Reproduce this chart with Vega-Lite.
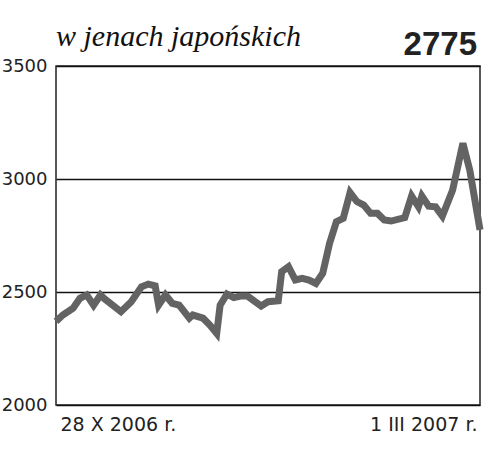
{
  "$schema": "https://vega.github.io/schema/vega-lite/v6.json",
  "autosize": "none",
  "width": 424,
  "height": 339,
  "padding": {"left": 56, "top": 66, "right": 20, "bottom": 48},
  "background": "white",
  "title": {
    "text": "w jenach japońskich",
    "anchor": "start",
    "frame": "group",
    "font": "Liberation Serif",
    "fontStyle": "italic",
    "fontWeight": "normal",
    "fontSize": 30,
    "color": "#111",
    "baseline": "alphabetic",
    "offset": -47
  },
  "config": {
    "view": {"stroke": "#222", "strokeWidth": 1.5},
    "axis": {"labelFont": "DejaVu Sans", "labelFontSize": 18, "labelColor": "#222", "ticks": false, "domain": false, "title": null}
  },
  "data": {
    "values": [
      {"date": "2006-10-28", "value": 2370},
      {"date": "2006-10-30", "value": 2398},
      {"date": "2006-11-02", "value": 2428},
      {"date": "2006-11-04", "value": 2472},
      {"date": "2006-11-06", "value": 2487},
      {"date": "2006-11-08", "value": 2442},
      {"date": "2006-11-10", "value": 2487},
      {"date": "2006-11-11", "value": 2472},
      {"date": "2006-11-16", "value": 2413},
      {"date": "2006-11-19", "value": 2457},
      {"date": "2006-11-22", "value": 2523},
      {"date": "2006-11-24", "value": 2535},
      {"date": "2006-11-26", "value": 2527},
      {"date": "2006-11-27", "value": 2442},
      {"date": "2006-11-29", "value": 2487},
      {"date": "2006-12-01", "value": 2450},
      {"date": "2006-12-03", "value": 2442},
      {"date": "2006-12-06", "value": 2384},
      {"date": "2006-12-07", "value": 2398},
      {"date": "2006-12-10", "value": 2384},
      {"date": "2006-12-12", "value": 2354},
      {"date": "2006-12-14", "value": 2317},
      {"date": "2006-12-15", "value": 2442},
      {"date": "2006-12-17", "value": 2491},
      {"date": "2006-12-19", "value": 2475},
      {"date": "2006-12-21", "value": 2482},
      {"date": "2006-12-23", "value": 2482},
      {"date": "2006-12-27", "value": 2438},
      {"date": "2006-12-29", "value": 2457},
      {"date": "2007-01-01", "value": 2461},
      {"date": "2007-01-02", "value": 2590},
      {"date": "2007-01-04", "value": 2612},
      {"date": "2007-01-06", "value": 2553},
      {"date": "2007-01-08", "value": 2560},
      {"date": "2007-01-10", "value": 2553},
      {"date": "2007-01-12", "value": 2538},
      {"date": "2007-01-14", "value": 2583},
      {"date": "2007-01-16", "value": 2715},
      {"date": "2007-01-18", "value": 2811},
      {"date": "2007-01-20", "value": 2826},
      {"date": "2007-01-22", "value": 2940},
      {"date": "2007-01-24", "value": 2900},
      {"date": "2007-01-26", "value": 2885},
      {"date": "2007-01-28", "value": 2848},
      {"date": "2007-01-30", "value": 2848},
      {"date": "2007-02-01", "value": 2819},
      {"date": "2007-02-03", "value": 2814},
      {"date": "2007-02-07", "value": 2829},
      {"date": "2007-02-09", "value": 2925},
      {"date": "2007-02-11", "value": 2877},
      {"date": "2007-02-12", "value": 2925},
      {"date": "2007-02-14", "value": 2880},
      {"date": "2007-02-16", "value": 2877},
      {"date": "2007-02-18", "value": 2836},
      {"date": "2007-02-21", "value": 2951},
      {"date": "2007-02-24", "value": 3158},
      {"date": "2007-02-26", "value": 3040},
      {"date": "2007-03-01", "value": 2775}
    ]
  },
  "layer": [
    {
      "mark": {"type": "line", "color": "#636363", "strokeWidth": 7, "strokeJoin": "miter"},
      "encoding": {
        "x": {
          "field": "date",
          "type": "temporal",
          "scale": {"type": "utc", "domain": [{"year": 2006, "month": 10, "date": 28, "utc": true}, {"year": 2007, "month": 3, "date": 1, "utc": true}]},
          "axis": {
            "grid": false,
            "values": [{"year": 2006, "month": 10, "date": 28, "utc": true}, {"year": 2007, "month": 3, "date": 1, "utc": true}],
            "labelExpr": "datum.value < 1167609600000 ? '28 X 2006 r.' : '1 III 2007 r.'",
            "labelFlush": true,
            "labelFontSize": 19,
            "labelOffset": {"condition": {"test": "datum.value < 1167609600000", "value": 4}, "value": -3},
            "labelPadding": 10
          }
        },
        "y": {
          "field": "value",
          "type": "quantitative",
          "scale": {"domain": [2000, 3500], "nice": false, "zero": false},
          "axis": {
            "values": [2000, 2500, 3000, 3500],
            "format": "d",
            "grid": true,
            "gridColor": "#111",
            "gridWidth": 1.3,
            "gridOpacity": 1,
            "labelPadding": 9
          }
        }
      }
    },
    {
      "transform": [
        {"joinaggregate": [{"op": "max", "field": "date", "as": "lastDate"}]},
        {"filter": "time(datum.date) >= time(datum.lastDate)"}
      ],
      "mark": {"type": "text", "font": "Liberation Sans", "fontWeight": "bold", "fontSize": 33, "align": "right", "baseline": "alphabetic", "dy": -11, "dx": -3, "color": "#222"},
      "encoding": {
        "x": {"field": "date", "type": "temporal"},
        "y": {"datum": 3500},
        "text": {"field": "value", "type": "quantitative", "format": "d"}
      }
    }
  ]
}
